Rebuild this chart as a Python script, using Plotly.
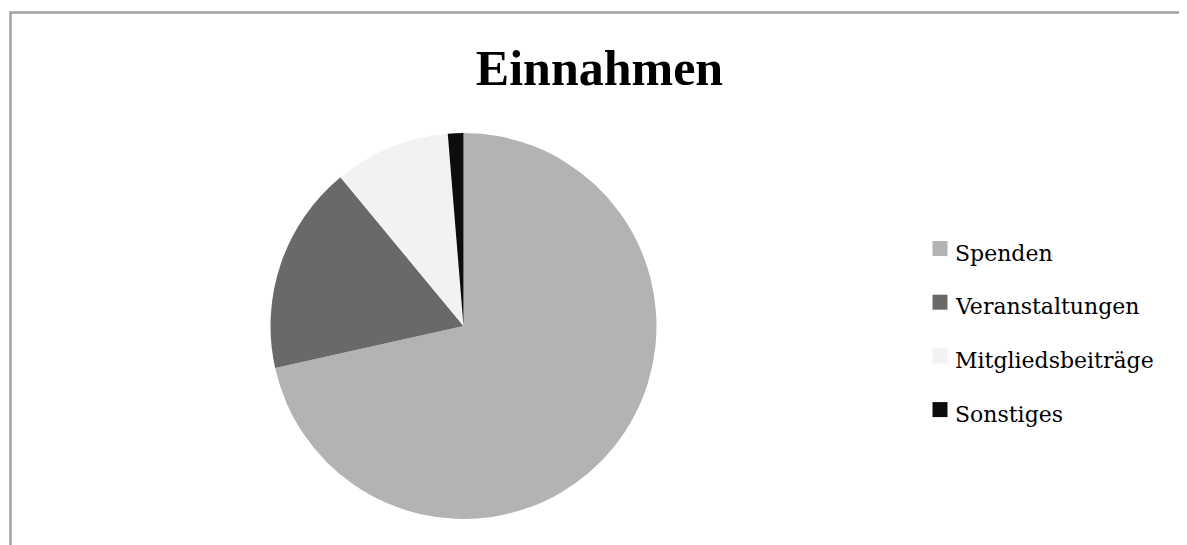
import plotly.graph_objects as go

# Page body has an 8px margin: figure sized to the visible area, coordinates offset.
OFF = 8
W, H = 1187 - OFF, 545 - OFF

labels = ["Spenden", "Veranstaltungen", "Mitgliedsbeiträge", "Sonstiges"]
values = [71.5, 17.5, 9.7, 1.3]
colors = ["#b3b3b3", "#696969", "#f2f2f2", "#0d0d0d"]
title_text = "Einnahmen"


def px(x):
    return (x - OFF) / W


def py(y):
    return (H - (y - OFF)) / H


cx, cy, r = 463.5, 326.0, 193.0

fig = go.Figure(go.Pie(
    labels=labels, values=values, sort=False, direction="clockwise", rotation=0,
    marker=dict(colors=colors, line=dict(width=0)),
    textinfo="none", showlegend=False,
    domain=dict(x=[px(cx - r), px(cx + r)], y=[py(cy + r), py(cy - r)]),
))

shapes = [dict(type="path", xref="paper", yref="paper",
               path=f"M {px(10.5)},-0.05 L {px(10.5)},{py(12.5)} L 1.05,{py(12.5)}",
               line=dict(color="#a3a3a3", width=2.5))]
annotations = []
for i, (lab, col) in enumerate(zip(labels, colors)):
    yc = 248.5 + i * 53.7
    shapes.append(dict(type="rect", xref="paper", yref="paper",
                       x0=px(932.5), x1=px(947.5), y0=py(yc + 7.5), y1=py(yc - 7.5),
                       fillcolor=col, line=dict(width=0)))
    annotations.append(dict(text=lab, xref="paper", yref="paper", x=px(952.5), y=py(yc + 4.5),
                            xanchor="left", yanchor="middle", showarrow=False,
                            font=dict(family="DejaVu Serif", size=22, color="#000000")))

fig.update_layout(
    width=W, height=H, margin=dict(l=0, r=0, t=0, b=0),
    paper_bgcolor="white", plot_bgcolor="white",
    title=dict(text=f"<b>{title_text}</b>", xref="paper", yref="paper", x=px(599.5), y=py(67.5),
               xanchor="center", yanchor="middle",
               font=dict(family="Liberation Serif", size=50, color="#000000")),
    shapes=shapes, annotations=annotations,
)
fig.write_html("out.html")
